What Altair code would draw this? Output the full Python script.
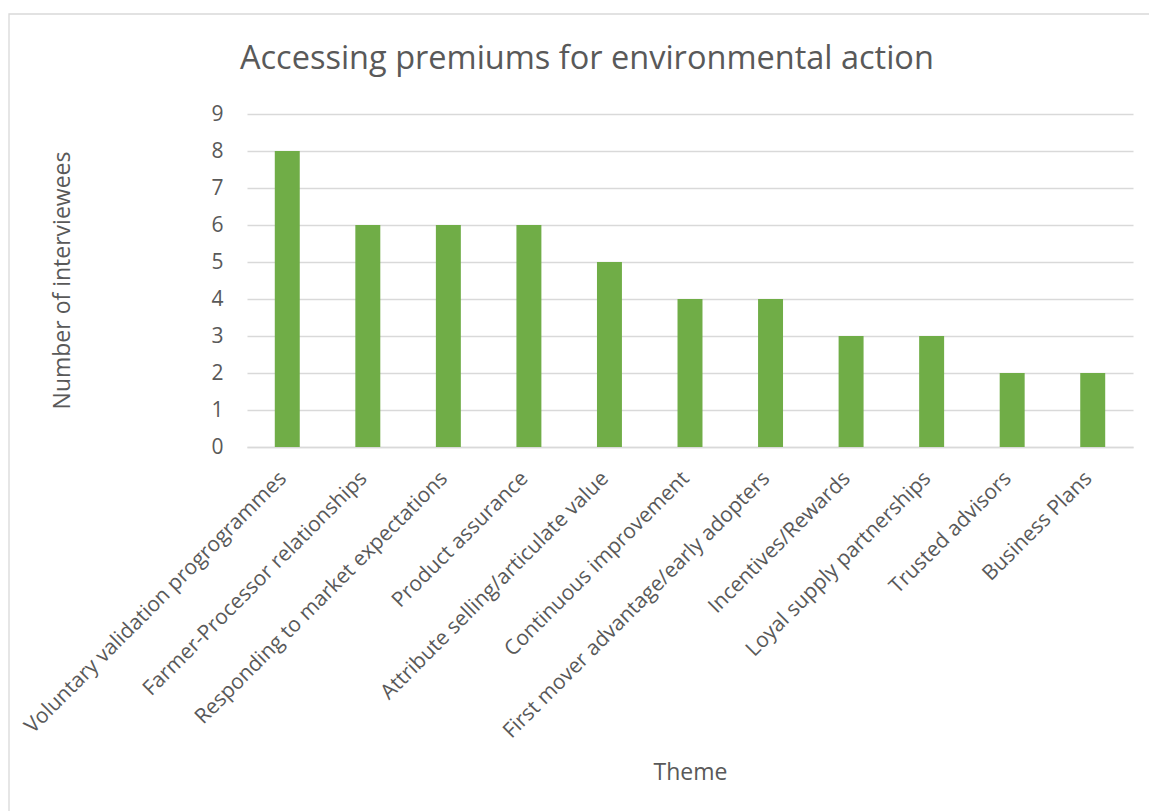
import altair as alt
import pandas as pd

themes = [
    "Voluntary validation progrogrammes",
    "Farmer-Processor relationships",
    "Responding to market expectations",
    "Product assurance",
    "Attribute selling/articulate value",
    "Continuous improvement",
    "First mover advantage/early adopters",
    "Incentives/Rewards",
    "Loyal supply partnerships",
    "Trusted advisors",
    "Business Plans",
]
counts = [8, 6, 6, 6, 5, 4, 4, 3, 3, 2, 2]
title_text = ["Accessing premiums for environmental action"]

df = pd.DataFrame({"Theme": themes, "Count": counts})
tdf = pd.DataFrame({"t": title_text})

FONT = "Open Sans"
TXT = "#595959"
GRID = "#D9D9D9"

bars = alt.Chart(df).mark_bar(color="#70AD47").encode(
    x=alt.X(
        "Theme:N",
        sort=themes,
        scale=alt.Scale(paddingInner=0.69, paddingOuter=0.345),
        axis=alt.Axis(
            title="Theme",
            grid=False,
            labelAngle=-45,
            labelAlign="right",
            labelBaseline="middle",
            labelPadding=28,
            labelOffset=-4,
            labelFontSize=21,
            labelColor=TXT,
            labelFont=FONT,
            labelLimit=600,
            ticks=False,
            domainColor=GRID,
            domainWidth=1.3,
            titleFont=FONT,
            titleFontSize=23,
            titleFontWeight="normal",
            titleColor=TXT,
            titleY=325,
            titleBaseline="middle",
        ),
    ),
    y=alt.Y(
        "Count:Q",
        scale=alt.Scale(domain=[0, 9], nice=False),
        axis=alt.Axis(
            title="Number of interviewees",
            values=list(range(0, 10)),
            grid=True,
            gridColor=GRID,
            gridWidth=1.3,
            domain=False,
            ticks=False,
            labelPadding=24,
            labelFontSize=21,
            labelColor=TXT,
            labelFont=FONT,
            titleFont=FONT,
            titleFontSize=23,
            titleFontWeight="normal",
            titleColor=TXT,
            titleX=-185,
            titleY=166,
            titleAngle=-90,
            titleAlign="center",
            titleBaseline="middle",
        ),
    ),
)

border = alt.Chart(tdf).mark_rect(fill="transparent", stroke=GRID, strokeWidth=1.3).encode(
    x=alt.value(-238), x2=alt.value(910), y=alt.value(-100), y2=alt.value(710)
)

title = alt.Chart(tdf).mark_text(
    font=FONT, fontSize=32.5, color=TXT, align="left", baseline="alphabetic"
).encode(text="t:N", x=alt.value(-7), y=alt.value(-45))

chart = alt.layer(border, bars, title).properties(
    width=886,
    height=333,
    background="white",
    autosize=alt.AutoSizeParams(type="none"),
    padding={"left": 247, "top": 114, "right": 16, "bottom": 364},
).configure_view(stroke=None, strokeWidth=0)

chart.save("out.html", embed_options={"renderer": "svg", "actions": False})
